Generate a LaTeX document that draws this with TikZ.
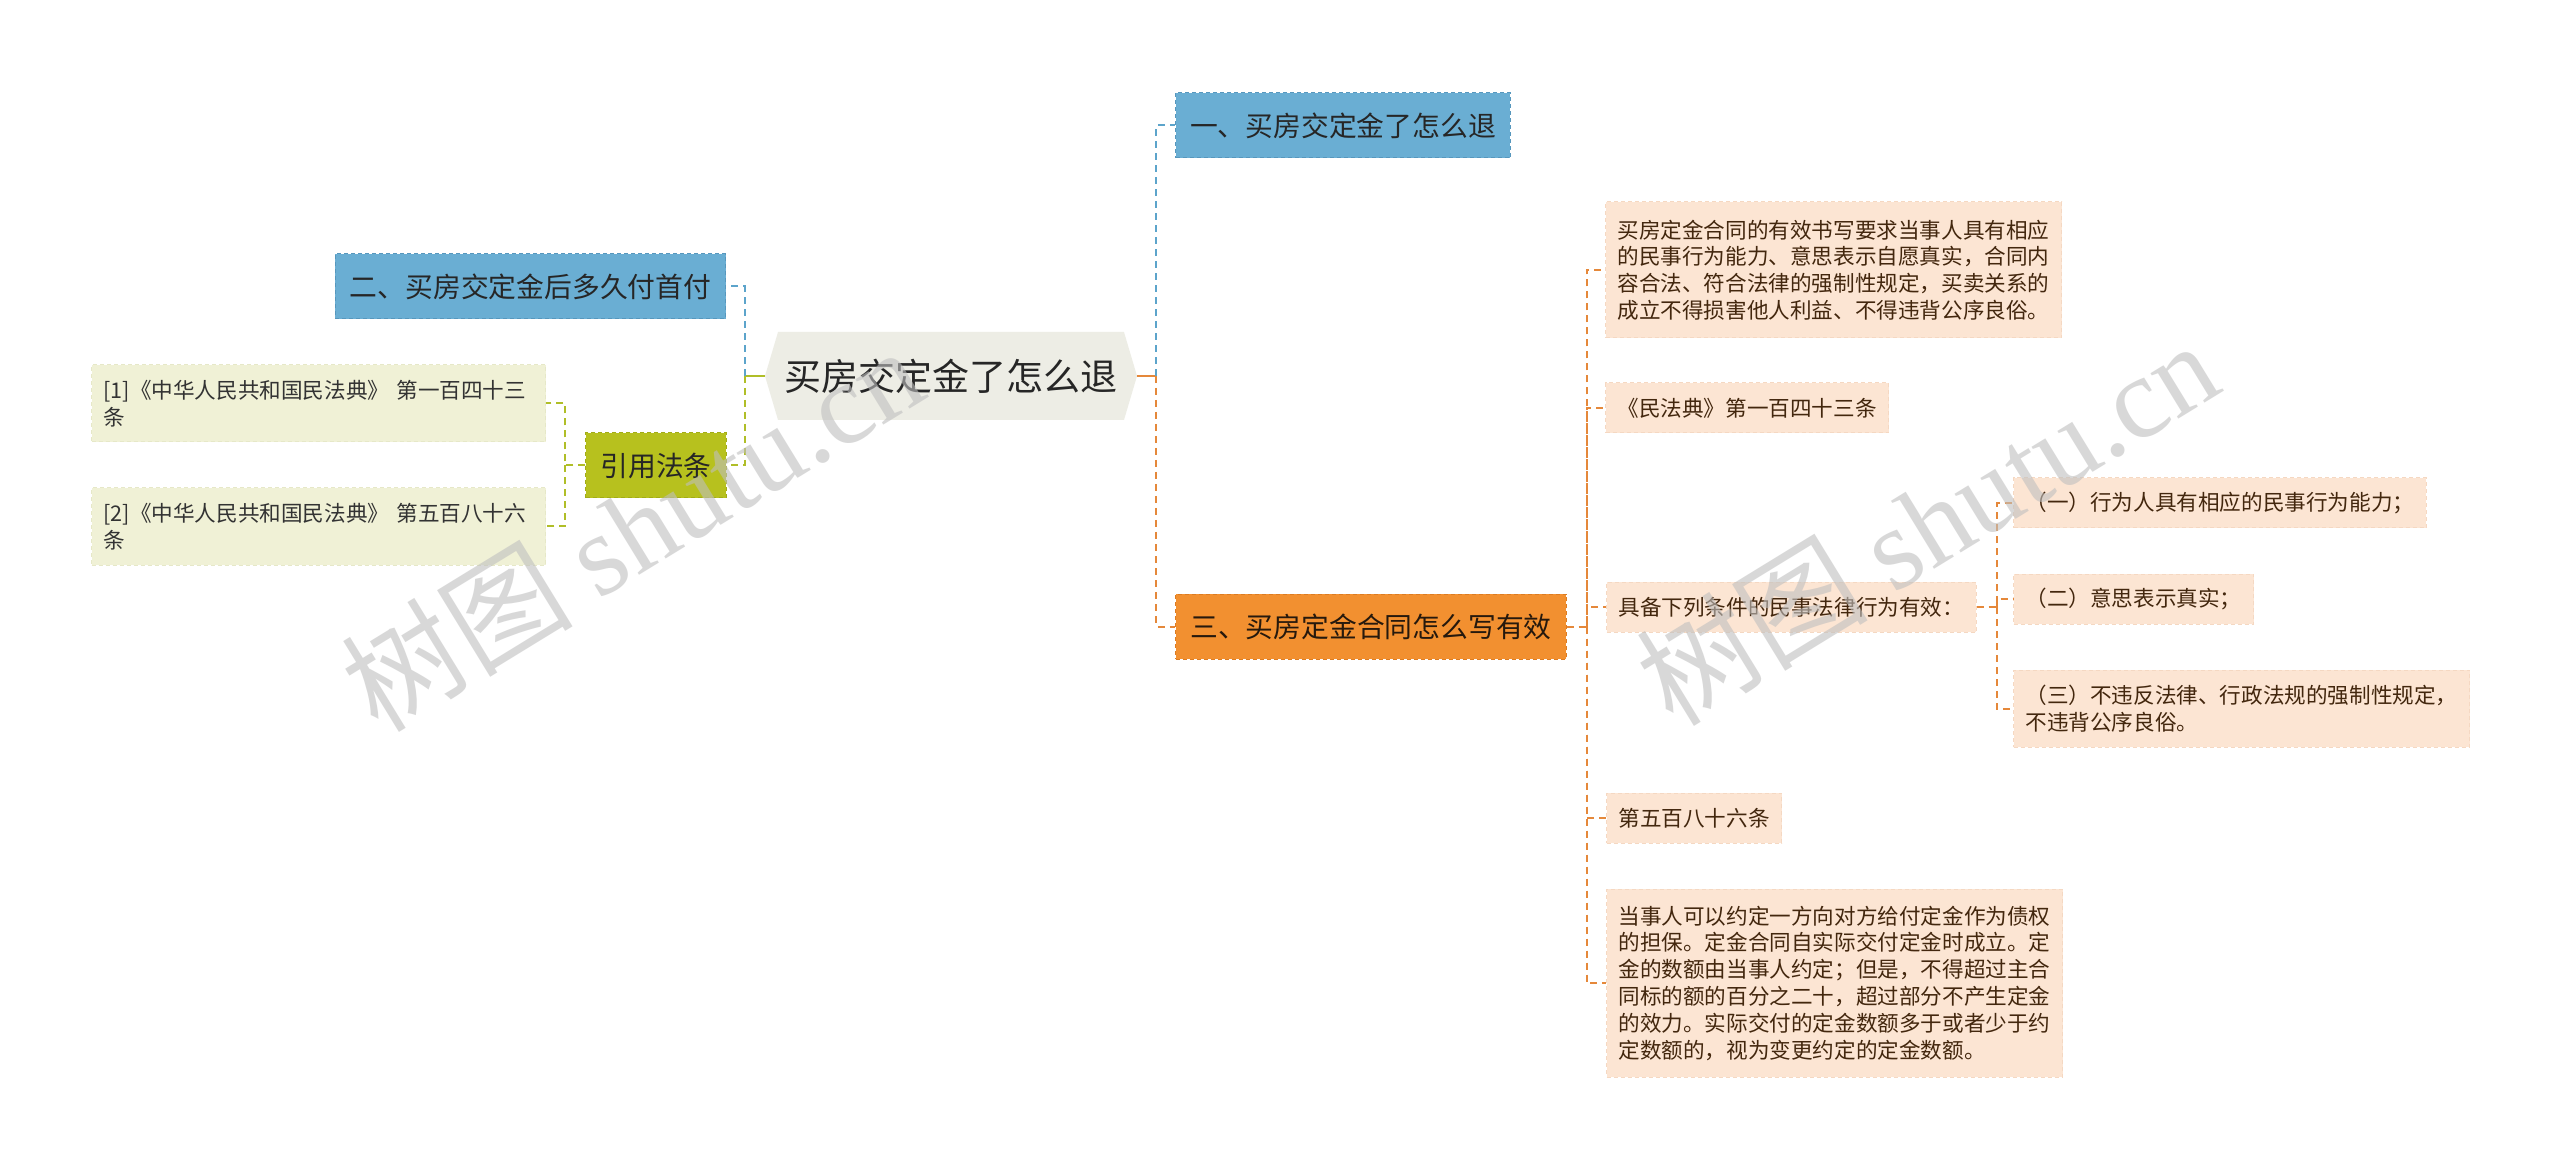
\documentclass[tikz,border=0pt]{standalone}
\usepackage{fontspec}
\setmainfont{Noto Sans CJK SC}
\newfontfamily\wmfont{Liberation Serif}
\usetikzlibrary{shapes.symbols}
\definecolor{rootbg}{HTML}{EDEDE5}
\definecolor{bluebg}{HTML}{6AAED3}
\definecolor{blueedge}{HTML}{5797BD}
\definecolor{orangebg}{HTML}{F29030}
\definecolor{orangeedge}{HTML}{DC7C22}
\definecolor{greenbg}{HTML}{B7C11E}
\definecolor{greenedge}{HTML}{A2AC17}
\definecolor{lawbg}{HTML}{F0F1D6}
\definecolor{lawedge}{HTML}{E6E8C8}
\definecolor{leafbg}{HTML}{FCE5D3}
\definecolor{leafedge}{HTML}{F5D8C2}
\definecolor{bluelink}{HTML}{5CA4CB}
\definecolor{orangelink}{HTML}{E5883A}
\definecolor{greenlink}{HTML}{B0BE28}
\definecolor{leaftext}{HTML}{43270E}
\tikzstyle{root} = [signal, signal to=west and east, signal pointer angle=147, fill=rootbg, text=black!85, minimum width=186pt, minimum height=44pt, inner sep=0pt, font=\fontsize{18.5}{22}\selectfont]
\tikzstyle{topic} = [rectangle, line width=0.5pt, dash pattern=on 2pt off 1.5pt, minimum height=32.5pt, inner xsep=7.25pt, font=\fontsize{13.9}{16}\selectfont]
\tikzstyle{bluebox} = [fill=bluebg, draw=blueedge, text=black!85]
\tikzstyle{orangebox} = [fill=orangebg, draw=orangeedge, text=black!80!brown]
\tikzstyle{greenbox} = [fill=greenbg, draw=greenedge, text=black!85]
\tikzstyle{law} = [rectangle, fill=lawbg, draw=lawedge, line width=0.5pt, dash pattern=on 2pt off 1.5pt, text=black!80, text width=215pt, minimum height=38.5pt, inner xsep=6pt, align=left, font=\fontsize{10.8}{13.2}\selectfont]
\tikzstyle{leaf} = [rectangle, fill=leafbg, draw=leafedge, line width=0.5pt, dash pattern=on 2pt off 1.5pt, text=leaftext, minimum height=25pt, inner xsep=6pt, align=left, font=\fontsize{10.8}{13.4}\selectfont]
\tikzstyle{stem} = [line width=1pt]
\tikzstyle{link} = [line width=1pt, dash pattern=on 3.5pt off 2.5pt]
\tikzstyle{watermark} = [text=black!25, text opacity=0.6, rotate=31.5, font=\fontsize{58}{58}\selectfont]

\begin{document}
\begin{tikzpicture}[x=0.5pt, y=-0.5pt]

\fill[white] (0,0) rectangle (2560,1171);

\node (root) [root] at (951,376) {买房交定金了怎么退};
\node (t1) [topic, bluebox] at (1343,125.5) {一、买房交定金了怎么退};
\node (t2) [topic, bluebox] at (530.5,286.5) {二、买房交定金后多久付首付};
\node (t3) [topic, orangebox] at (1371,626.5) {三、买房定金合同怎么写有效};
\node (cite) [topic, greenbox] at (656,465.5) {引用法条};

\node (law1) [law, anchor=west] at (91,403.5) {[1]《中华人民共和国民法典》 第一百四十三\\条};
\node (law2) [law, anchor=west] at (91,526.5) {[2]《中华人民共和国民法典》 第五百八十六\\条};

\node (c1) [leaf, anchor=west, text width=216pt, minimum height=68pt] at (1605,270) {买房定金合同的有效书写要求当事人具有相应\\的民事行为能力、意思表示自愿真实，合同内\\容合法、符合法律的强制性规定，买卖关系的\\成立不得损害他人利益、不得违背公序良俗。};
\node (c2) [leaf, anchor=west] at (1605,408) {《民法典》第一百四十三条};
\node (c3) [leaf, anchor=west] at (1606,607) {具备下列条件的民事法律行为有效：};
\node (g1) [leaf, anchor=west] at (2013,503) {（一）行为人具有相应的民事行为能力；};
\node (g2) [leaf, anchor=west] at (2013,599) {（二）意思表示真实；};
\node (g3) [leaf, anchor=west, text width=216pt, minimum height=38.5pt] at (2013,708.5) {（三）不违反法律、行政法规的强制性规定，\\不违背公序良俗。};
\node (c4) [leaf, anchor=west] at (1606,818) {第五百八十六条};
\node (c5) [leaf, anchor=west, text width=216pt, minimum height=94pt] at (1606,983) {当事人可以约定一方向对方给付定金作为债权\\的担保。定金合同自实际交付定金时成立。定\\金的数额由当事人约定；但是，不得超过主合\\同标的额的百分之二十，超过部分不产生定金\\的效力。实际交付的定金数额多于或者少于约\\定数额的，视为变更约定的定金数额。};

\draw [stem, greenlink] (root.west) -- ++(-10pt,0) coordinate (lj);
\draw [link, bluelink] (lj) |- (t2.east);
\draw [link, greenlink] (lj) |- (cite.east);
\draw [stem, orangelink] (root.east) -- ++(9.5pt,0) coordinate (rj);
\draw [link, bluelink] (rj) |- (t1.west);
\draw [link, orangelink] (rj) |- (t3.west);

\coordinate (cj) at ([xshift=-10pt]cite.west);
\draw [link, greenlink] (cite.west) -- (cj) |- (law1.east);
\draw [link, greenlink] (cj) |- (law2.east);

\coordinate (tj) at ([xshift=10pt]t3.east);
\draw [link, orangelink] (t3.east) -- (tj) |- (c1.west);
\draw [link, orangelink] (tj) |- (c2.west);
\draw [link, orangelink] (tj) |- (c3.west);
\draw [link, orangelink] (tj) |- (c4.west);
\draw [link, orangelink] (tj) |- (c5.west);

\coordinate (gj) at ([xshift=10pt]c3.east);
\draw [link, orangelink] (c3.east) -- (gj) |- (g1.west);
\draw [link, orangelink] (gj) |- (g2.west);
\draw [link, orangelink] (gj) |- (g3.west);

\node (wm1) [watermark] at (632,528) {树图 {\wmfont shutu.cn}};
\node (wm2) [watermark] at (1927,522) {树图 {\wmfont shutu.cn}};

\end{tikzpicture}
\end{document}
